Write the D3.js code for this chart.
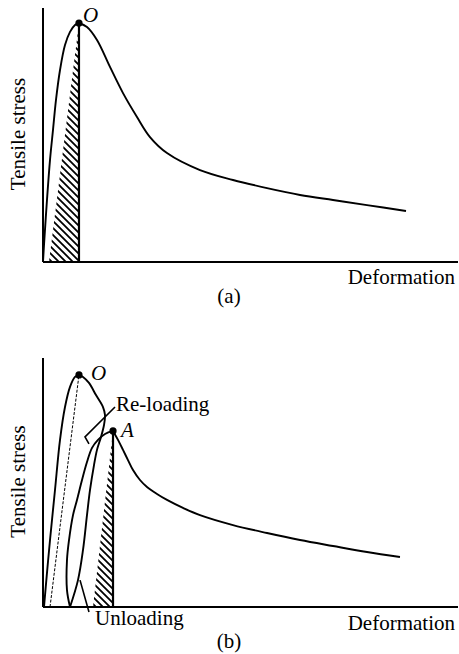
<!DOCTYPE html>
<html>
<head>
<meta charset="utf-8">
<script src="https://cdn.jsdelivr.net/npm/d3@7"></script>
<style>
  html, body { margin: 0; padding: 0; background: #fff; }
  svg { display: block; }
</style>
</head>
<body>
<script>
// ---------- data (normalised units: deformation 0-100, stress 0-100) ----------
// Panel (a)
const aLoadX = [0, 0.24, 0.96, 1.69, 2.41, 3.13, 4.10, 5.30, 6.51, 7.71, 8.67];
const aLoadY = [0, 6.7, 24.4, 40.2, 52.0, 63.8, 75.6, 85.4, 90.6, 93.3, 94.1];
const aSoftX = [8.67, 10.60, 13.01, 16.14, 19.28, 22.65, 25.78, 29.88, 37.83, 45.78, 53.98, 61.93, 69.88, 78.07, 87.47];
const aSoftY = [94.1, 92.5, 87.4, 76.8, 66.5, 57.1, 49.2, 42.9, 36.2, 32.3, 29.1, 26.4, 24.4, 22.4, 20.1];
const aHatchX = [1.45, 8.67, 8.67];
const aHatchY = [0, 94.1, 0];

// Panel (b)
const bLoadX = [0.24, 0.96, 1.69, 2.89, 4.10, 5.30, 6.51, 7.71, 8.67];
const bLoadY = [0, 13.7, 26.9, 47.0, 67.1, 80.3, 88.4, 92.4, 93.2];
const bDashX = [1.69, 8.67];
const bDashY = [0, 93.2];
const bUnloadX = [8.67, 9.64, 11.08, 12.77, 14.46, 14.94, 14.70, 13.98, 13.01, 12.29, 11.33, 10.60, 9.64, 8.43, 6.51];
const bUnloadY = [93.2, 92.4, 90.0, 85.1, 80.3, 77.1, 73.1, 68.3, 63.1, 57.0, 47.0, 36.9, 22.9, 10.8, 0];
const bReloadX = [6.51, 5.78, 5.78, 6.27, 7.23, 8.19, 9.40, 10.60, 11.81, 13.25, 14.94, 16.87];
const bReloadY = [0, 6.8, 18.9, 26.9, 36.9, 43.0, 51.0, 58.2, 63.9, 67.1, 69.5, 70.7];
const bSoftX = [16.87, 18.07, 19.28, 20.48, 21.69, 23.37, 25.06, 27.47, 29.88, 33.73, 37.83, 45.78, 53.98, 61.93, 69.88, 78.07, 86.02];
const bSoftY = [70.7, 67.1, 63.1, 59.0, 55.0, 51.0, 48.2, 45.4, 43.0, 39.8, 36.9, 32.9, 29.7, 26.9, 24.5, 22.1, 20.1];
const bHatchX = [12.05, 16.87, 16.87];
const bHatchY = [0, 70.7, 0];

// annotation leaders (data units)
const reloadLeaderX = [17.35, 10.12, 11.08];
const reloadLeaderY = [80.3, 68.3, 65.5];
const unloadLeaderX = [8.92, 11.08];
const unloadLeaderY = [10.8, -2.0];

// labels
const yLabel = "Tensile stress";
const xLabel = "Deformation";
const panelLabels = ["(a)", "(b)"];
const pointLabelsA = ["O"];
const pointLabelsB = ["O", "A"];
const annotLabels = ["Re-loading", "Unloading"];

// ---------- drawing ----------
const FONT = "'Liberation Serif', 'Times New Roman', serif";
const FS = 21;
const W = 459, H = 654;
const svg = d3.select("body").append("svg").attr("width", W).attr("height", H);
svg.append("rect").attr("width", W).attr("height", H).attr("fill", "#fff");

const defs = svg.append("defs");
const pat = defs.append("pattern")
  .attr("id", "hatch").attr("patternUnits", "userSpaceOnUse")
  .attr("width", 7).attr("height", 7);
pat.append("rect").attr("width", 7).attr("height", 7).attr("fill", "#fff");
pat.append("path").attr("d", "M-2,-2 L9,9 M-2,5 L2,9 M5,-2 L9,2")
  .attr("stroke", "#000").attr("stroke-width", 1.8);

const zip = (xs, ys) => xs.map((x, i) => [x, ys[i]]);

function addText(g, size) {
  return g.append("text").attr("font-family", FONT).attr("font-size", size).attr("fill", "#000");
}

function panel(cfg) {
  const x = d3.scaleLinear().domain([0, 100]).range([43, 458]);
  const y = d3.scaleLinear().domain([0, 100]).range([cfg.y0, cfg.y0 - cfg.h]);
  const g = svg.append("g");
  const line = d3.line().x(d => x(d[0])).y(d => y(d[1])).curve(d3.curveCatmullRom.alpha(0.5));
  const straight = d3.line().x(d => x(d[0])).y(d => y(d[1]));

  // hatch
  g.append("path").attr("d", straight(zip(cfg.hatchX, cfg.hatchY)) + "Z")
    .attr("fill", "url(#hatch)").attr("stroke", "none");
  g.append("line")
    .attr("x1", x(cfg.hatchX[1])).attr("x2", x(cfg.hatchX[1]))
    .attr("y1", y(cfg.hatchY[1])).attr("y2", y(0))
    .attr("stroke", "#000").attr("stroke-width", 2.2);

  // axes
  const yAxis = d3.axisLeft(y).tickValues([]).tickSize(0);
  const xAxis = d3.axisBottom(x).tickValues([]).tickSize(0);
  g.append("g").attr("transform", `translate(${x(0)},0)`).call(yAxis)
    .call(s => s.select(".domain").attr("d", `M0,${cfg.y0 - cfg.axisH}V${cfg.y0}`).attr("stroke-width", 2));
  g.append("g").attr("transform", `translate(0,${y(0)})`).call(xAxis)
    .call(s => s.select(".domain").attr("d", `M${x(0)},0H${x(100)}`).attr("stroke-width", 2));

  cfg.curves.forEach(c => {
    g.append("path").attr("d", line(zip(c[0], c[1])))
      .attr("fill", "none").attr("stroke", "#000").attr("stroke-width", 1.9)
      .attr("stroke-linejoin", "round");
  });
  if (cfg.dash) {
    g.append("path").attr("d", straight(zip(cfg.dash[0], cfg.dash[1])))
      .attr("fill", "none").attr("stroke", "#000").attr("stroke-width", 1)
      .attr("stroke-dasharray", "3,1.5");
  }
  (cfg.leaders || []).forEach(l => {
    g.append("path").attr("d", straight(zip(l[0], l[1])))
      .attr("fill", "none").attr("stroke", "#000").attr("stroke-width", 1.6);
  });
  cfg.points.forEach(p => {
    g.append("circle").attr("cx", x(p.x)).attr("cy", y(p.y)).attr("r", 3.6).attr("fill", "#000");
    addText(g, FS).attr("x", x(p.x) + p.dx).attr("y", y(p.y) + p.dy)
      .attr("font-style", "italic").text(p.label);
  });

  // axis titles
  addText(g, FS).attr("transform", `translate(25,${cfg.y0 - cfg.axisH / 2 - 1}) rotate(-90)`)
    .attr("text-anchor", "middle").text(yLabel);
  addText(g, FS).attr("x", 455).attr("y", cfg.y0 + cfg.xlabDy).attr("text-anchor", "end").text(xLabel);
  addText(g, FS).attr("x", 229).attr("y", cfg.y0 + cfg.panDy).attr("text-anchor", "middle").text(cfg.panel);
  (cfg.texts || []).forEach(t => {
    addText(g, FS).attr("x", t.x).attr("y", t.y).text(t.label);
  });
}

panel({
  y0: 262, h: 254, axisH: 254, xlabDy: 22, panDy: 41, panel: panelLabels[0],
  hatchX: aHatchX, hatchY: aHatchY,
  curves: [[aLoadX, aLoadY], [aSoftX, aSoftY]],
  points: [{ x: aLoadX[aLoadX.length - 1], y: aLoadY[aLoadY.length - 1], label: pointLabelsA[0], dx: 4, dy: -1 }]
});

panel({
  y0: 607, h: 249, axisH: 249, xlabDy: 23, panDy: 41, panel: panelLabels[1],
  hatchX: bHatchX, hatchY: bHatchY,
  curves: [[bLoadX, bLoadY], [bUnloadX, bUnloadY], [bReloadX, bReloadY], [bSoftX, bSoftY]],
  dash: [bDashX, bDashY],
  leaders: [[reloadLeaderX, reloadLeaderY], [unloadLeaderX, unloadLeaderY]],
  points: [
    { x: bLoadX[bLoadX.length - 1], y: bLoadY[bLoadY.length - 1], label: pointLabelsB[0], dx: 12, dy: 5 },
    { x: bSoftX[0], y: bSoftY[0], label: pointLabelsB[1], dx: 8, dy: 6 }
  ],
  texts: [
    { x: 116, y: 411, label: annotLabels[0] },
    { x: 95, y: 625, label: annotLabels[1] }
  ]
});
</script>
</body>
</html>
